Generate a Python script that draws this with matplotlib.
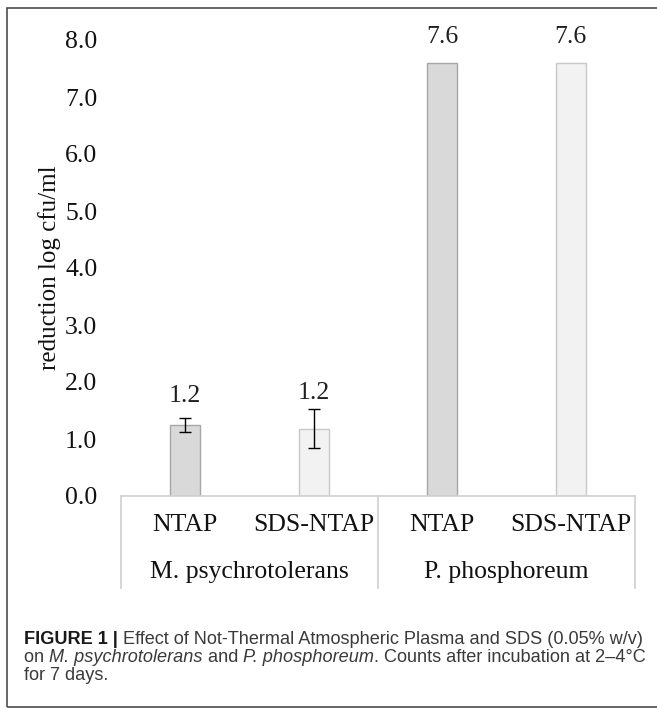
import matplotlib
matplotlib.use("Agg")
import matplotlib.pyplot as plt
from matplotlib.patches import Rectangle
import numpy as np

# data
treatments = ["NTAP", "SDS-NTAP", "NTAP", "SDS-NTAP"]
organisms = ["M. psychrotolerans", "P. phosphoreum"]
reduction = [1.24, 1.18, 7.6, 7.6]
errors = [0.12, 0.34, 0.0, 0.0]
bar_labels = ["1.2", "1.2", "7.6", "7.6"]
yticks = [0, 1, 2, 3, 4, 5, 6, 7, 8]

serif = "Liberation Serif"
sans = "Liberation Sans"

fig = plt.figure(figsize=(6.57, 7.08), dpi=100)
W, H = 657, 708

# outer frame of the figure panel
fig.patches.append(Rectangle((7 / W, 1 - 707 / H), 1.2, (707 - 8) / H,
                             transform=fig.transFigure, fill=False,
                             edgecolor="#4d4d4d", linewidth=1.2))

ax = fig.add_axes([121 / W, 1 - 496 / H, (635 - 121) / W, (496 - 40) / H])
x = np.arange(len(reduction))
colors = ["#d9d9d9", "#f2f2f2", "#d9d9d9", "#f2f2f2"]
edges = ["#a6a6a6", "#c8c8c8", "#a6a6a6", "#c8c8c8"]
ax.bar(x, reduction, width=0.23, color=colors, edgecolor=edges, linewidth=1.0, zorder=2)
ax.errorbar(x[:2], reduction[:2], yerr=errors[:2], fmt="none", ecolor="black",
            elinewidth=1.0, capsize=4, capthick=1.0, zorder=3)

for xi, v, e, lab in zip(x, reduction, errors, bar_labels):
    ax.text(xi, v + e * 0.5 + 0.46, lab, ha="center", va="center", fontsize=18.5,
            family=serif, color="#1f1f1f")

ax.set_xlim(-0.5, 3.5)
ax.set_ylim(0, 8)
ax.set_yticks(yticks)
ax.set_yticklabels([f"{t:.1f}" for t in yticks], family=serif, fontsize=18.5, color="#111111")
ax.tick_params(axis="y", length=0, pad=17)
ax.set_xticks([])
for s in ["top", "right", "left"]:
    ax.spines[s].set_visible(False)
ax.spines["bottom"].set_color("#d0d0d0")
ax.spines["bottom"].set_linewidth(1.2)
ax.set_ylabel("reduction log cfu/ml", family=serif, fontsize=18, color="#111111", labelpad=3)

# category area below the axis
ah = 496 - 40
trans = ax.get_xaxis_transform()
for xs in [-0.5, 1.5, 3.5]:
    ax.plot([xs, xs], [0, -92 / ah], transform=trans, clip_on=False,
            color="#d0d0d0", linewidth=1.2)
for xi, t in zip(x, treatments):
    ax.text(xi, -29 / ah, t, transform=trans, ha="center", va="center",
            family=serif, fontsize=18.5, color="#111111")
for gi, g in enumerate(organisms):
    ax.text(2 * gi + 0.5, -76 / ah, g, transform=trans, ha="center", va="center",
            family=serif, fontsize=18.5, color="#111111")

# caption with mixed styles, pieces placed one after another on a shared baseline
cap_size = 13.1
cap_color = "#3a3a3a"
line1 = [("FIGURE 1 | ", "bold", "normal", "#1a1a1a"),
         ("Effect of Not-Thermal Atmospheric Plasma and SDS (0.05% w/v)", "normal", "normal", cap_color)]
line2 = [("on ", "normal", "normal", cap_color),
         ("M. psychrotolerans", "normal", "italic", cap_color),
         (" and ", "normal", "normal", cap_color),
         ("P. phosphoreum", "normal", "italic", cap_color),
         (". Counts after incubation at 2\u20134\u00b0C", "normal", "normal", cap_color)]
line3 = [("for 7 days.", "normal", "normal", cap_color)]

renderer = fig.canvas.get_renderer()
for line, yb in zip([line1, line2, line3], [644, 662, 680]):
    xpos = 24
    for txt, weight, style, col in line:
        t = fig.text(xpos / W, 1 - yb / H, txt, ha="left", va="baseline",
                     family=sans, fontsize=cap_size, fontweight=weight,
                     fontstyle=style, color=col)
        xpos = t.get_window_extent(renderer).x1

fig.savefig("out.png", dpi=100)
